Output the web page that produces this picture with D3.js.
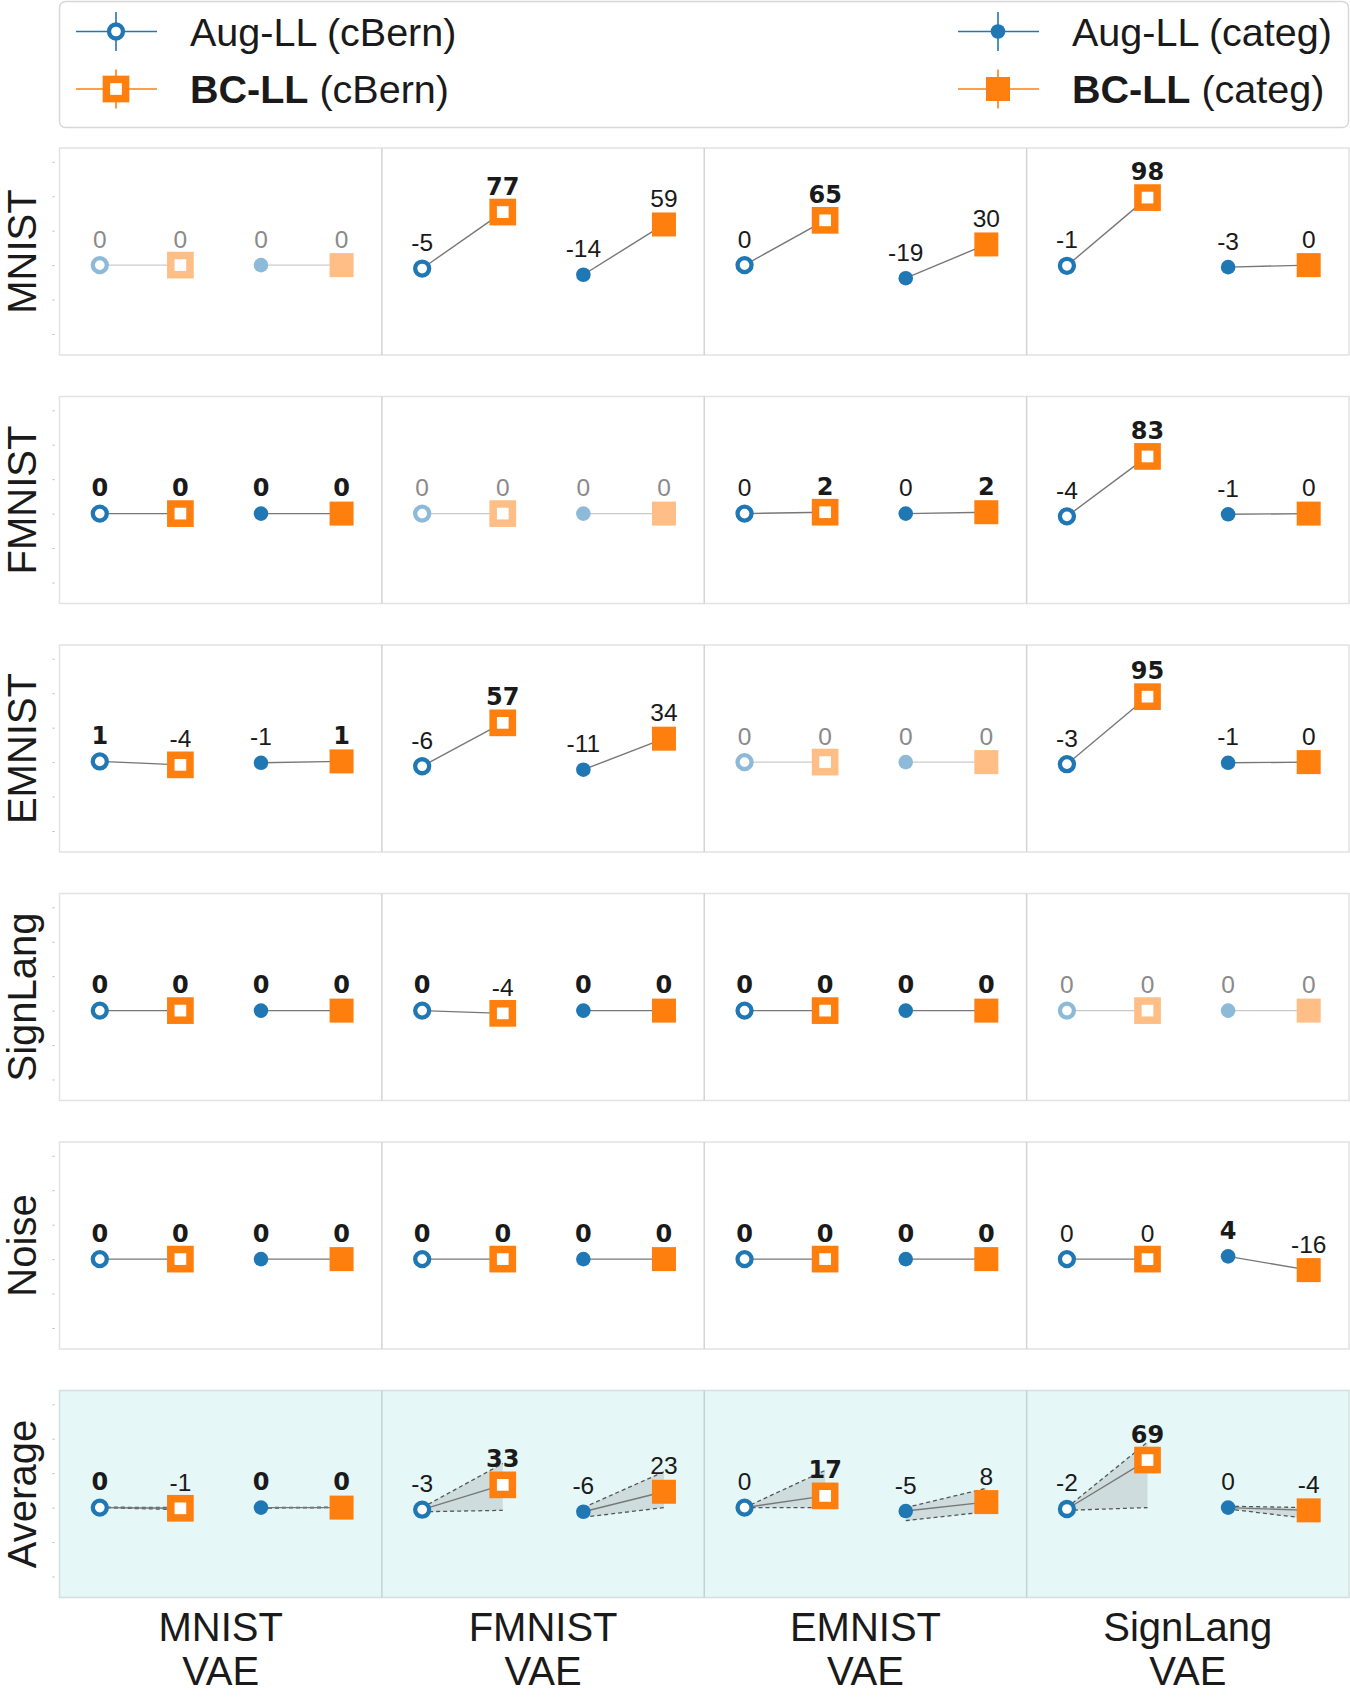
<!DOCTYPE html>
<html>
<head>
<meta charset="utf-8">
<script src="https://cdn.jsdelivr.net/npm/d3@7"></script>
<style>
  body { margin: 0; background: #fff; }
  svg { font-family: "Liberation Sans", Arial, sans-serif; }
</style>
</head>
<body>
<div id="container"></div>
<script>
/* DATA */
const rowNames = ["MNIST", "FMNIST", "EMNIST", "SignLang", "Noise", "Average"]
const colNames = [["MNIST", "VAE"], ["FMNIST", "VAE"], ["EMNIST", "VAE"], ["SignLang", "VAE"]]
const seriesNames = ["Aug-LL (cBern)", "BC-LL (cBern)", "Aug-LL (categ)", "BC-LL (categ)"]

// 4 values per column: Aug cBern, BC cBern, Aug categ, BC categ
const mnistVals    = [0, 0, 0, 0,   -5, 77, -14, 59,   0, 65, -19, 30,   -1, 98, -3, 0]
const fmnistVals   = [0, 0, 0, 0,    0, 0, 0, 0,       0, 2, 0, 2,       -4, 83, -1, 0]
const emnistVals   = [1, -4, -1, 1,  -6, 57, -11, 34,  0, 0, 0, 0,       -3, 95, -1, 0]
const signlangVals = [0, 0, 0, 0,    0, -4, 0, 0,      0, 0, 0, 0,       0, 0, 0, 0]
const noiseVals    = [0, 0, 0, 0,    0, 0, 0, 0,       0, 0, 0, 0,       0, 0, 4, -16]
const averageVals  = [0, -1, 0, 0,   -3, 33, -6, 23,   0, 17, -5, 8,     -2, 69, 0, -4]
// interval drawn around the averages
const averageLower = [0, -3, -0.7, 0,   -6, -4, -14, 0,   0, 0, -19, -6,   -4, 0, -2, -16]
const averageUpper = [0.7, 0, 0, 0.7,   0, 64, 0, 52,     0, 54, 0, 28,    0, 95, 2, 0]

const rowVals = [mnistVals, fmnistVals, emnistVals, signlangVals, noiseVals, averageVals]
// column that holds the in-distribution result for each row (-1: none)
const inDistCol = [0, 1, 2, 3, -1, -1]
const yTicks = [-100, -50, 0, 50, 100, 150]

/* LAYOUT */
const width = 1350, height = 1699
const left = 59.5, right = 1349
const rowTop0 = 148, rowStep = 248.5, rowH = 207
const blue = "#1f77b4", orange = "#ff7f0e"

const svg = d3.select("#container").append("svg")
  .attr("width", width)
  .attr("height", height)

const x = d3.scaleLinear().domain([-0.5, 15.5]).range([left, right])

// marker drawing, shared by panels and legend
function drawMarker(g, kind, cx, cy) {
  if (kind === 0) {
    g.append("circle").attr("cx", cx).attr("cy", cy).attr("r", 7)
      .attr("fill", "white").attr("stroke", blue).attr("stroke-width", 4.3)
  } else if (kind === 1) {
    g.append("rect").attr("x", cx - 9.6).attr("y", cy - 9.6).attr("width", 19.2).attr("height", 19.2)
      .attr("fill", "white").attr("stroke", orange).attr("stroke-width", 7.5)
  } else if (kind === 2) {
    g.append("circle").attr("cx", cx).attr("cy", cy).attr("r", 7.3).attr("fill", blue)
  } else {
    g.append("rect").attr("x", cx - 12).attr("y", cy - 12).attr("width", 24).attr("height", 24)
      .attr("fill", orange)
  }
}

/* LEGEND */
svg.append("rect")
  .attr("x", 59.5).attr("y", 1.5)
  .attr("width", 1289).attr("height", 126)
  .attr("rx", 6)
  .attr("fill", "white").attr("stroke", "#d8d8d8").attr("stroke-width", 1.5)

const legendPos = [[116, 31.5], [116, 89], [998, 31.5], [998, 89]]
seriesNames.forEach((name, k) => {
  const [mx, my] = legendPos[k]
  const col = (k % 2 === 0) ? blue : orange
  const lg = svg.append("g")
  lg.append("line").attr("x1", mx - 40).attr("x2", mx + 41).attr("y1", my).attr("y2", my)
    .attr("stroke", col).attr("stroke-width", 1.6)
  lg.append("line").attr("x1", mx).attr("x2", mx).attr("y1", my - 19.5).attr("y2", my + 19.5)
    .attr("stroke", col).attr("stroke-width", 1.6)
  drawMarker(lg, k, mx, my)
  const parts = name.split(" ")
  const t = lg.append("text").attr("x", mx + 74).attr("y", my + 14)
    .attr("font-size", "39.5px").attr("fill", "#1a1a1a")
  t.append("tspan").attr("font-weight", k % 2 === 1 ? "bold" : "normal").text(parts[0])
  t.append("tspan").text(" " + parts[1])
})

/* PANELS */
rowNames.forEach((rowName, r) => {
  const top = rowTop0 + r * rowStep
  const y = d3.scaleLinear().domain([-130.5, 170]).range([top + rowH, top])
  const vals = rowVals[r]
  const isAvg = rowName === "Average"
  const g = svg.append("g").attr("class", "row")

  g.append("rect")
    .attr("x", left).attr("y", top)
    .attr("width", right - left).attr("height", rowH)
    .attr("fill", isAvg ? "#e6f7f8" : "white")
    .attr("stroke", isAvg ? "#d3dfe0" : "#e2e2e2").attr("stroke-width", 1.5)

  for (let c = 1; c < 4; c++) {
    g.append("line")
      .attr("x1", x(c * 4 - 0.5)).attr("x2", x(c * 4 - 0.5))
      .attr("y1", top).attr("y2", top + rowH)
      .attr("stroke", isAvg ? "#c4d2d4" : "#d4d4d4").attr("stroke-width", 1.5)
  }

  const yAxis = d3.axisLeft(y).tickValues(yTicks).tickSize(2).tickFormat("")
  g.append("g")
    .attr("transform", `translate(${left - 5},0)`)
    .call(yAxis)
    .call(a => a.select(".domain").remove())
    .call(a => a.selectAll("line").attr("stroke", "#b8b8b8"))

  g.append("text")
    .attr("transform", `translate(36,${top + rowH / 2}) rotate(-90)`)
    .attr("text-anchor", "middle")
    .attr("font-size", "40px").attr("fill", "#1a1a1a")
    .text(rowName)

  for (let c = 0; c < 4; c++) {
    const faded = inDistCol[r] === c
    const pv = vals.slice(c * 4, c * 4 + 4)
    const best = d3.max(pv)
    const pg = g.append("g").attr("opacity", faded ? 0.5 : 1)

    for (let p = 0; p < 2; p++) {
      const i0 = c * 4 + p * 2, i1 = i0 + 1
      if (isAvg) {
        const band = [[x(i0), y(averageLower[i0])], [x(i1), y(averageLower[i1])],
                      [x(i1), y(averageUpper[i1])], [x(i0), y(averageUpper[i0])]]
        pg.append("path")
          .attr("d", d3.line()(band) + "Z")
          .attr("fill", "#a9b4b6").attr("fill-opacity", 0.4)
        ;[averageLower, averageUpper].forEach(bound => {
          pg.append("line")
            .attr("x1", x(i0)).attr("y1", y(bound[i0]))
            .attr("x2", x(i1)).attr("y2", y(bound[i1]))
            .attr("stroke", "#555").attr("stroke-width", 1.3)
            .attr("stroke-dasharray", "4,3")
        })
      }
      pg.append("line")
        .attr("x1", x(i0)).attr("y1", y(vals[i0]))
        .attr("x2", x(i1)).attr("y2", y(vals[i1]))
        .attr("stroke", faded ? "#999" : "#777").attr("stroke-width", 1.4)
    }

    for (let k = 0; k < 4; k++) {
      const i = c * 4 + k
      drawMarker(pg, k, x(i), y(vals[i]))
    }

    for (let k = 0; k < 4; k++) {
      const i = c * 4 + k
      const bold = !faded && vals[i] === best
      g.append("text")
        .attr("x", x(i)).attr("y", y(vals[i]) - 17.5)
        .attr("text-anchor", "middle")
        .attr("font-family", bold ? "'DejaVu Sans', sans-serif" : null)
        .attr("font-size", bold ? "24px" : "24.5px")
        .attr("font-weight", bold ? "bold" : "normal")
        .attr("fill", faded ? "#8a8a8a" : "#1a1a1a")
        .text(vals[i])
    }
  }
})

/* COLUMN LABELS */
colNames.forEach((lines, c) => {
  const t = svg.append("text")
    .attr("x", x(c * 4 + 1.5)).attr("y", 1641)
    .attr("text-anchor", "middle")
    .attr("font-size", "40px").attr("fill", "#1a1a1a")
  lines.forEach((s, j) => {
    t.append("tspan").attr("x", x(c * 4 + 1.5)).attr("dy", j === 0 ? 0 : 44).text(s)
  })
})
</script>
</body>
</html>
